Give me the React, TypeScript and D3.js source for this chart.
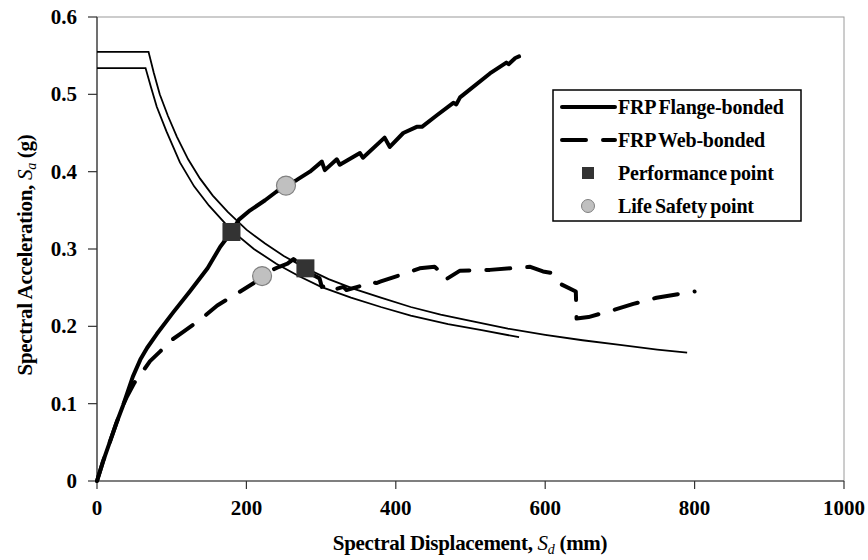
import React from 'react';
import * as d3 from 'd3';

// ---- Data ----
const xTicks = [0, 200, 400, 600, 800, 1000];
const yTicks = [0, 0.1, 0.2, 0.3, 0.4, 0.5, 0.6];
const yTickLabels = ['0', '0.1', '0.2', '0.3', '0.4', '0.5', '0.6'];

// Demand spectrum for the web-bonded case (upper plateau, ends ~790 mm)
const demandUpper: [number, number][] = [
  [0, 0.555], [69, 0.555], [76, 0.528], [84, 0.5], [95, 0.472], [107, 0.445],
  [122, 0.416], [138, 0.391], [155, 0.369], [175, 0.348], [200, 0.325],
  [225, 0.307], [250, 0.291], [280, 0.275], [310, 0.261], [345, 0.248],
  [380, 0.237], [420, 0.225], [460, 0.215], [500, 0.207], [550, 0.197],
  [600, 0.189], [650, 0.182], [700, 0.176], [750, 0.170], [790, 0.166],
];

// Demand spectrum for the flange-bonded case (lower plateau, ends ~565 mm)
const demandLower: [number, number][] = [
  [0, 0.534], [65, 0.534], [72, 0.51], [80, 0.484], [93, 0.452], [111, 0.412],
  [130, 0.381], [150, 0.356], [180, 0.324], [210, 0.300], [240, 0.281],
  [270, 0.265], [300, 0.251], [340, 0.237], [380, 0.225], [420, 0.214],
  [470, 0.203], [515, 0.195], [565, 0.186],
];

// Capacity curve, FRP flange-bonded
const flangeCapacity: [number, number][] = [
  [0, 0], [8, 0.025], [17, 0.05], [26, 0.075], [35, 0.098], [48, 0.135],
  [58, 0.157], [67, 0.172], [80, 0.19], [102, 0.218], [125, 0.246],
  [148, 0.275], [165, 0.303], [180, 0.322], [190, 0.338], [205, 0.35],
  [225, 0.363], [240, 0.374], [253, 0.382], [267, 0.389], [285, 0.4],
  [301, 0.413], [305, 0.402], [321, 0.416], [325, 0.409], [352, 0.424],
  [356, 0.418], [385, 0.444], [392, 0.432], [410, 0.45], [428, 0.458],
  [435, 0.458], [455, 0.473], [477, 0.489], [481, 0.487], [486, 0.496],
  [526, 0.527], [548, 0.541], [551, 0.539], [560, 0.547], [565, 0.549],
];

// Capacity curve, FRP web-bonded
const webCapacity: [number, number][] = [
  [0, 0], [8, 0.025], [17, 0.05], [26, 0.075], [35, 0.098], [40, 0.109],
  [50, 0.127], [60, 0.14], [71, 0.155], [85, 0.168], [98, 0.181],
  [114, 0.192], [130, 0.203], [145, 0.214], [161, 0.227], [178, 0.237],
  [195, 0.247], [210, 0.256], [221, 0.264], [232, 0.272], [244, 0.277],
  [255, 0.281], [263, 0.287], [279, 0.275], [290, 0.266], [298, 0.262],
  [301, 0.251], [312, 0.253], [316, 0.247], [330, 0.251], [334, 0.247],
  [356, 0.253], [365, 0.258], [374, 0.256], [380, 0.258], [405, 0.266],
  [432, 0.275], [452, 0.277], [459, 0.271], [466, 0.26], [486, 0.272],
  [526, 0.273], [580, 0.277], [597, 0.271], [609, 0.269], [622, 0.254],
  [641, 0.245], [642, 0.21], [658, 0.212], [691, 0.221], [718, 0.229],
  [749, 0.237], [780, 0.242], [800, 0.245],
];

const performancePoints: [number, number][] = [[180, 0.322], [279, 0.275]];
const lifeSafetyPoints: [number, number][] = [[253, 0.382], [221, 0.265]];

const legendLabels = ['FRP Flange-bonded', 'FRP Web-bonded', 'Performance point', 'Life Safety point'];

const FONT = '"Liberation Serif", "Times New Roman", serif';

export default function App() {
  const x = d3.scaleLinear().domain([0, 1000]).range([97, 844]);
  const y = d3.scaleLinear().domain([0, 0.6]).range([481, 17]);
  const line = d3.line<[number, number]>().x(d => x(d[0])).y(d => y(d[1]));

  const lg = { x: 553, y: 90, w: 248, h: 131 };
  const rowY = [107, 140, 173, 206];

  return (
    <svg width={868} height={560} style={{ position: 'absolute', left: 0, top: 0, background: '#fff' }}
      fontFamily={FONT}>
      <rect x={0} y={0} width={868} height={560} fill="#fff" />
      {/* plot border */}
      <rect x={x(0)} y={y(0.6)} width={x(1000) - x(0)} height={y(0) - y(0.6)} fill="none" stroke="#9a9a9a" strokeWidth={1} />
      {/* axes */}
      <line x1={x(0)} x2={x(0)} y1={y(0)} y2={y(0.6)} stroke="#333" strokeWidth={1.2} />
      <line x1={x(0)} x2={x(1000)} y1={y(0)} y2={y(0)} stroke="#333" strokeWidth={1.2} />
      {xTicks.map(t => (
        <g key={'xt' + t}>
          <line x1={x(t)} x2={x(t)} y1={y(0)} y2={y(0) + 8} stroke="#333" strokeWidth={1.2} />
          <text x={x(t)} y={515} textAnchor="middle" fontSize={21} fontWeight="bold">{t}</text>
        </g>
      ))}
      {yTicks.map((t, i) => (
        <g key={'yt' + t}>
          <line x1={x(0) - 9} x2={x(0)} y1={y(t)} y2={y(t)} stroke="#333" strokeWidth={1.2} />
          <text x={77} y={y(t) + 7} textAnchor="end" fontSize={21} fontWeight="bold">{yTickLabels[i]}</text>
        </g>
      ))}
      {/* axis titles */}
      <text x={470} y={550} textAnchor="middle" fontSize={21} fontWeight="bold" letterSpacing={-0.3}>
        Spectral Displacement, <tspan fontStyle="italic" fontWeight="normal">S</tspan>
        <tspan fontStyle="italic" fontWeight="normal" fontSize={14} dy={4}>d</tspan>
        <tspan dy={-4}> (mm)</tspan>
      </text>
      <text transform="translate(32,255) rotate(-90)" textAnchor="middle" fontSize={21} fontWeight="bold" letterSpacing={-0.3}>
        Spectral Acceleration, <tspan fontStyle="italic" fontWeight="normal">S</tspan>
        <tspan fontStyle="italic" fontWeight="normal" fontSize={14} dy={4}>a</tspan>
        <tspan dy={-4}> (g)</tspan>
      </text>

      {/* demand spectra */}
      <path d={line(demandUpper) || ''} fill="none" stroke="#000" strokeWidth={1.8} />
      <path d={line(demandLower) || ''} fill="none" stroke="#000" strokeWidth={1.8} />
      {/* capacity curves */}
      <path d={line(flangeCapacity) || ''} fill="none" stroke="#000" strokeWidth={4} strokeLinejoin="round" strokeLinecap="round" />
      <path d={line(webCapacity) || ''} fill="none" stroke="#000" strokeWidth={4} strokeLinejoin="round" strokeLinecap="round" strokeDasharray="24 17" />

      {/* markers */}
      {performancePoints.map((p, i) => (
        <rect key={'pp' + i} x={x(p[0]) - 9} y={y(p[1]) - 9} width={18} height={18} fill="#333" />
      ))}
      {lifeSafetyPoints.map((p, i) => (
        <circle key={'ls' + i} cx={x(p[0])} cy={y(p[1])} r={9.5} fill="#c0c0c0" stroke="#808080" strokeWidth={1.2} />
      ))}

      {/* legend */}
      <rect x={lg.x} y={lg.y} width={lg.w} height={lg.h} fill="#fff" stroke="#000" strokeWidth={1.5} />
      <line x1={562} x2={615} y1={rowY[0]} y2={rowY[0]} stroke="#000" strokeWidth={4} strokeLinecap="round" />
      <line x1={562} x2={615} y1={rowY[1]} y2={rowY[1]} stroke="#000" strokeWidth={4} strokeLinecap="round" strokeDasharray="24 17" />
      <rect x={582} y={rowY[2] - 6} width={12} height={12} fill="#333" />
      <circle cx={588} cy={rowY[3]} r={6.5} fill="#c0c0c0" stroke="#808080" strokeWidth={1} />
      {legendLabels.map((l, i) => (
        <text key={l} x={618} y={rowY[i] + 7} fontSize={20} fontWeight="bold" letterSpacing={-0.2} wordSpacing={-1.5}>{l}</text>
      ))}
    </svg>
  );
}
